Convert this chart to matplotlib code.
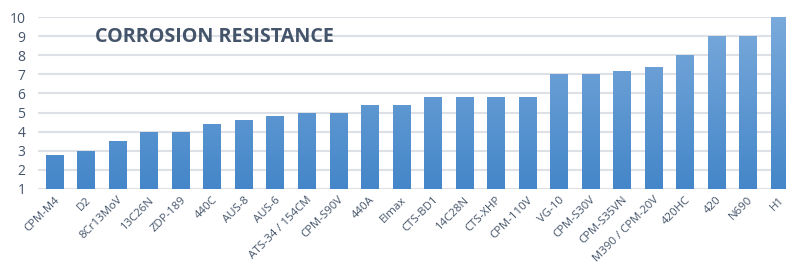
import numpy as np
import matplotlib.pyplot as plt
from matplotlib.colors import LinearSegmentedColormap

# steel names and corrosion resistance scores
steels = ["CPM-M4", "D2", "8Cr13MoV", "13C26N", "ZDP-189", "440C", "AUS-8", "AUS-6",
          "ATS-34 / 154CM", "CPM-S90V", "440A", "Elmax", "CTS-BD1", "14C28N", "CTS-XHP",
          "CPM-110V", "VG-10", "CPM-S30V", "CPM-S35VN", "M390 / CPM-20V", "420HC", "420",
          "N690", "H1"]
scores = [2.8, 3.0, 3.5, 4.0, 4.0, 4.4, 4.6, 4.8, 5.0, 5.0, 5.4, 5.4, 5.8, 5.8, 5.8,
          5.8, 7.0, 7.0, 7.2, 7.4, 8.0, 9.0, 9.0, 10.0]
yticks = list(range(1, 11))

plt.rcParams['font.family'] = ['Open Sans', 'DejaVu Sans']

fig = plt.figure(figsize=(7.86, 2.65), dpi=100)
ax = fig.add_axes([38 / 786, 0.2868, 757 / 786, 0.649])

x = np.arange(len(steels))
bars = ax.bar(x, scores, width=0.54, color='none', edgecolor='none', zorder=3)

# vertical gradient, lighter at the top
cmap = LinearSegmentedColormap.from_list('blu', ['#4486c9', '#7aaadb'])
grad = np.linspace(0, 1, 256).reshape(-1, 1)
for b in bars:
    im = ax.imshow(grad, cmap=cmap, origin='lower', aspect='auto',
                   extent=[b.get_x(), b.get_x() + b.get_width(), 1, 10],
                   zorder=3)
    im.set_clip_path(b)

ax.set_xlim(-0.52, 23.5)
ax.set_ylim(1, 10)
ax.set_yticks(yticks)
ax.set_xticks(x)
ax.set_xticklabels(steels, rotation=45, ha='right', rotation_mode='anchor',
                   fontsize=8.2, color='#44546a')
ax.tick_params(axis='x', length=0, pad=4)
ax.tick_params(axis='y', length=0, pad=9, labelsize=10, labelcolor='#44546a')
ax.yaxis.grid(True, color='#dde1e6', linewidth=1.5, zorder=0)
ax.set_axisbelow(True)
for s in ax.spines.values():
    s.set_visible(False)

fig.text(95 / 786, 1 - 37 / 265, "CORROSION RESISTANCE", fontsize=14.2, fontweight='bold',
         color='#44546a', va='center', ha='left')

fig.savefig('out.png', dpi=100)
